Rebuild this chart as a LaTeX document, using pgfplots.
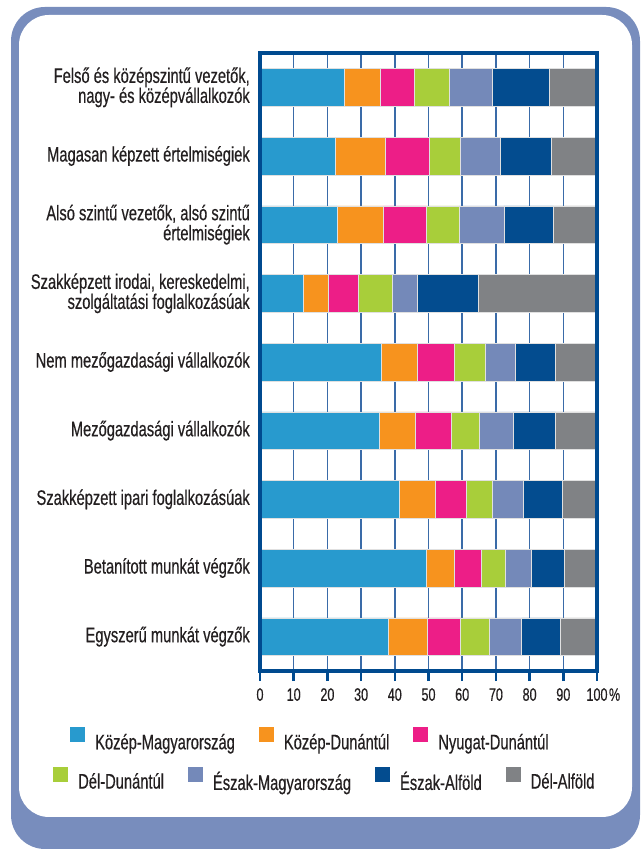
\documentclass[border=0pt]{standalone}
\usepackage{pgfplots}
\pgfplotsset{compat=1.18}
\usepackage{pgfplotstable}
\usepackage{fontspec}
\setmainfont{Liberation Sans}[FakeStretch=0.70, FakeBold=0.4]
\definecolor{cKM}{RGB}{40,154,206}
\definecolor{cKD}{RGB}{247,147,30}
\definecolor{cND}{RGB}{237,30,135}
\definecolor{cDD}{RGB}{168,206,58}
\definecolor{cEM}{RGB}{116,137,185}
\definecolor{cEA}{RGB}{3,76,143}
\definecolor{cDA}{RGB}{128,130,133}
\definecolor{cFrame}{RGB}{120,141,189}
\definecolor{cAxis}{RGB}{0,74,143}
\definecolor{cGrid}{RGB}{58,107,168}
\definecolor{cText}{RGB}{35,31,32}

\pgfplotstableread{
cat KM   KD   ND   DD   EM   EA   DA
1   24.9 10.7 10.1 10.5 12.8 16.8 14.2
2   22.4 14.7 13.0 9.2  11.9 15.1 13.7
3   22.8 13.8 12.8 9.7  13.3 14.6 13.0
4   12.9 7.3  9.0  10.1 7.3  18.2 35.2
5   36.0 10.8 10.8 9.2  8.9  12.0 12.3
6   35.4 10.8 10.5 8.4  10.0 12.6 12.3
7   41.2 10.7 9.2  7.7  9.4  11.5 10.3
8   49.3 8.3  8.0  7.1  7.7  9.8  9.8
9   38.0 11.5 9.9  8.5  9.7  11.5 10.9
}\data

\begin{document}
\begin{tikzpicture}[x=1pt,y=1pt]
\useasboundingbox (0,0) rectangle (641,850);
\fill[cFrame, rounded corners=34pt] (11,1) rectangle (640,843);
\fill[white, rounded corners=30pt] (19,33) rectangle (632,835);
\begin{axis}[
  at={(260pt,179pt)}, anchor=south west,
  scale only axis, width=337pt, height=618pt,
  xmin=0, xmax=100, ymin=0.5, ymax=9.5,
  y dir=reverse,
  xbar stacked, bar width=37.7pt,
  axis line style={draw=none},
  tick align=outside, major tick length=10pt,
  xtick pos=left,
  xtick={0,10,...,100},
  xticklabels={0,10,20,30,40,50,60,70,80,90,100\rlap{\kern1.5pt\%}},
  xtick style={draw=cAxis, line width=2.5pt},
  xticklabel style={font=\fontsize{18}{18}\selectfont, text=cText, inner ysep=7pt},
  ytick={1,...,9},
  ytick style={draw=none},
  yticklabels={
    {Felső és középszintű vezetők,\\nagy- és középvállalkozók},
    {Magasan képzett értelmiségiek},
    {Alsó szintű vezetők, alsó szintű\\értelmiségiek},
    {Szakképzett irodai, kereskedelmi,\\szolgáltatási foglalkozásúak},
    {Nem mezőgazdasági vállalkozók},
    {Mezőgazdasági vállalkozók},
    {Szakképzett ipari foglalkozásúak},
    {Betanított munkát végzők},
    {Egyszerű munkát végzők}},
  yticklabel style={font=\fontsize{21}{20}\selectfont, text=cText, align=right, inner sep=0pt},
  xmajorgrids, major grid style={draw=cGrid, line width=1.5pt},
  every axis plot/.append style={draw=black!12, line width=0.5pt},
]
\addplot[fill=cKM] table[x=KM, y=cat] {\data};
\addplot[fill=cKD] table[x=KD, y=cat] {\data};
\addplot[fill=cND] table[x=ND, y=cat] {\data};
\addplot[fill=cDD] table[x=DD, y=cat] {\data};
\addplot[fill=cEM] table[x=EM, y=cat] {\data};
\addplot[fill=cEA] table[x=EA, y=cat] {\data};
\addplot[fill=cDA] table[x=DA, y=cat] {\data};
\end{axis}
\draw[cAxis, line width=3.5pt] (260,179) rectangle (597,797);

\begin{axis}[
  at={(260pt,179pt)}, anchor=south west,
  scale only axis, width=337pt, height=618pt,
  hide axis, xmin=0, xmax=1, ymin=0, ymax=1,
  legend columns=3,
  legend image code/.code={\fill[#1] (0pt,0pt) rectangle (15pt,15pt);},
  legend style={at={(-0.5638,-0.1117)}, anchor=west, draw=none, fill=none, inner sep=0pt,
    font=\fontsize{21}{21}\selectfont, text=cText,
    /tikz/every odd column/.append style={column sep=8pt},
    /tikz/every even column/.append style={column sep=22pt}},
]
\addlegendimage{fill=cKM, draw=none}\addlegendentry{Közép-Magyarország}
\addlegendimage{fill=cKD, draw=none}\addlegendentry{Közép-Dunántúl}
\addlegendimage{fill=cND, draw=none}\addlegendentry{Nyugat-Dunántúl}
\end{axis}

\begin{axis}[
  at={(260pt,179pt)}, anchor=south west,
  scale only axis, width=337pt, height=618pt,
  hide axis, xmin=0, xmax=1, ymin=0, ymax=1,
  legend columns=4,
  legend image code/.code={\fill[#1] (0pt,0pt) rectangle (15pt,15pt);},
  legend style={at={(-0.6142,-0.1764)}, anchor=west, draw=none, fill=none, inner sep=0pt,
    font=\fontsize{21}{21}\selectfont, text=cText,
    /tikz/every odd column/.append style={column sep=8pt},
    /tikz/every even column/.append style={column sep=22pt}},
]
\addlegendimage{fill=cDD, draw=none}\addlegendentry{Dél-Dunántúl}
\addlegendimage{fill=cEM, draw=none}\addlegendentry{Észak-Magyarország}
\addlegendimage{fill=cEA, draw=none}\addlegendentry{Észak-Alföld}
\addlegendimage{fill=cDA, draw=none}\addlegendentry{Dél-Alföld}
\end{axis}
\end{tikzpicture}
\end{document}
